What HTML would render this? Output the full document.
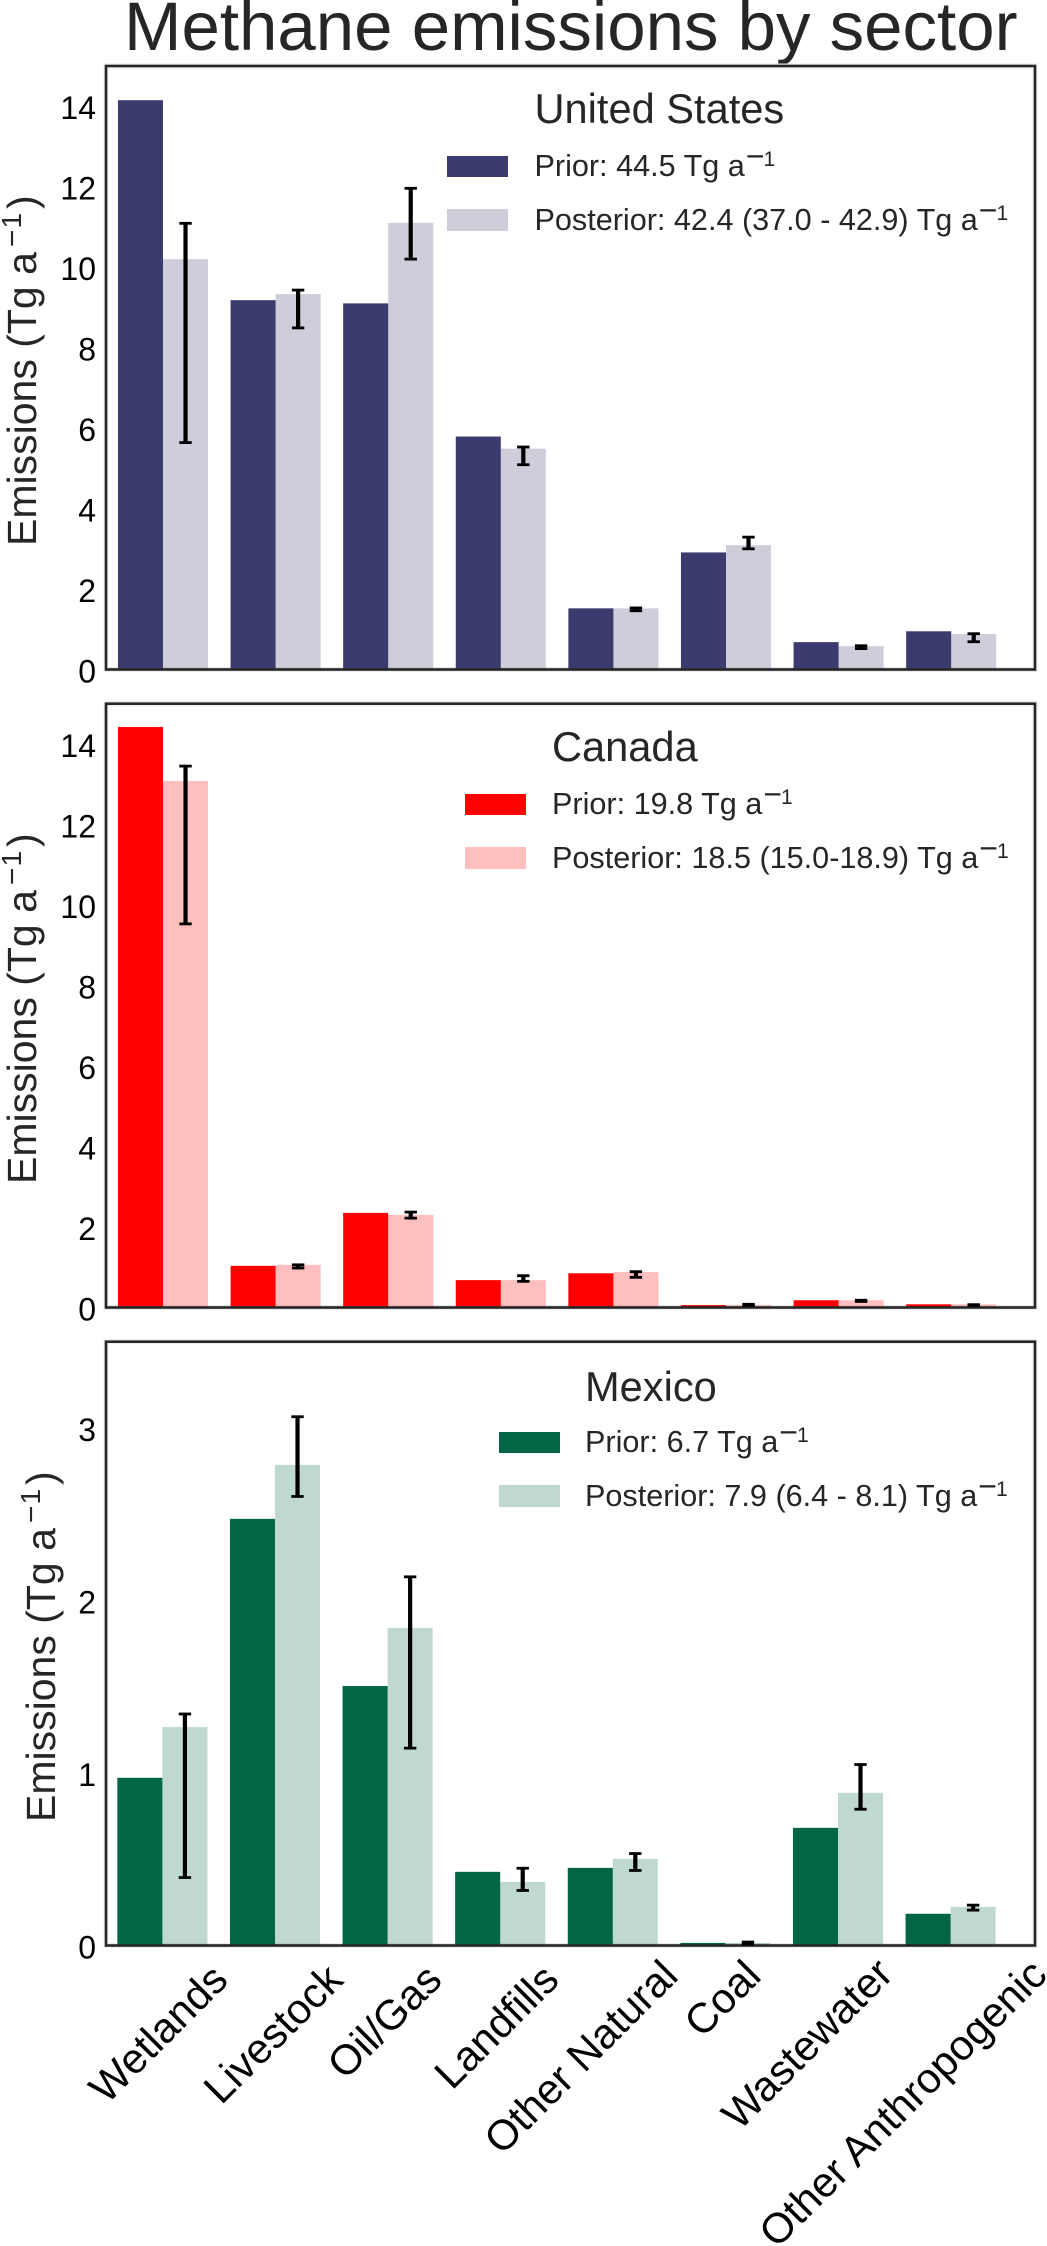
<!DOCTYPE html>
<html lang="en">
<head>
<meta charset="utf-8">
<title>Methane emissions by sector</title>
<style>
  html, body { margin: 0; padding: 0; background: #fff; }
  body { width: 1047px; height: 2246px; overflow: hidden; }
  svg { display: block; font-family: "Liberation Sans", Arial, sans-serif; }
  .leg-title { font-size: 41.6px; fill: #262626; }
  .leg-text { font-size: 30.6px; fill: #262626; }
  .y-title { font-size: 41px; fill: #262626; }
  .x-label { font-size: 42px; fill: #000; }
  .y-tick { font-size: 32px; fill: #000; text-anchor: end; }
</style>
</head>
<body>
<svg id="chart" xmlns="http://www.w3.org/2000/svg" width="1047" height="2246" viewBox="0 0 1047 2246">
  <rect x="0" y="0" width="1047" height="2246" fill="#fff"/>
  <text x="124" y="50" font-size="69" fill="#262626">Methane emissions by sector</text>

  <g id="panel-us"></g>
  <g id="panel-ca"></g>
  <g id="panel-mx"></g>

  <!-- Y axis titles -->
  <text class="y-title" transform="translate(36,546) rotate(-90)">Emissions (Tg a<tspan dx="5" dy="-14" font-size="30">−</tspan><tspan dx="1" dy="-1" font-size="28">1</tspan><tspan dx="4" dy="15">)</tspan></text>
  <text class="y-title" transform="translate(36,1184) rotate(-90)">Emissions (Tg a<tspan dx="5" dy="-14" font-size="30">−</tspan><tspan dx="1" dy="-1" font-size="28">1</tspan><tspan dx="4" dy="15">)</tspan></text>
  <text class="y-title" transform="translate(55,1822) rotate(-90)">Emissions (Tg a<tspan dx="5" dy="-14" font-size="30">−</tspan><tspan dx="1" dy="-1" font-size="28">1</tspan><tspan dx="4" dy="15">)</tspan></text>

  <!-- Legends -->
  <g>
    <text class="leg-title" x="534.5" y="123">United States</text>
    <rect x="447" y="156" width="61" height="21" fill="#3c3b6e"/>
    <rect x="447" y="209" width="61" height="22" fill="#3c3b6e" fill-opacity="0.25"/>
    <text class="leg-text" x="534.5" y="176">Prior: 44.5 Tg a<tspan dx="1" dy="-9" font-size="32">−</tspan><tspan dx="-1" dy="-1" font-size="21">1</tspan></text>
    <text class="leg-text" x="534.5" y="230">Posterior: 42.4 (37.0 - 42.9) Tg a<tspan dx="1" dy="-9" font-size="32">−</tspan><tspan dx="-1" dy="-1" font-size="21">1</tspan></text>
  </g>
  <g>
    <text class="leg-title" x="552" y="761">Canada</text>
    <rect x="465" y="794" width="61" height="21" fill="#ff0000"/>
    <rect x="465" y="847" width="61" height="22" fill="#ff0000" fill-opacity="0.25"/>
    <text class="leg-text" x="552" y="814">Prior: 19.8 Tg a<tspan dx="1" dy="-9" font-size="32">−</tspan><tspan dx="-1" dy="-1" font-size="21">1</tspan></text>
    <text class="leg-text" x="552" y="868">Posterior: 18.5 (15.0-18.9) Tg a<tspan dx="1" dy="-9" font-size="32">−</tspan><tspan dx="-1" dy="-1" font-size="21">1</tspan></text>
  </g>
  <g>
    <text class="leg-title" x="585" y="1401">Mexico</text>
    <rect x="499" y="1432" width="61" height="21" fill="#006644"/>
    <rect x="499" y="1485" width="61" height="22" fill="#006644" fill-opacity="0.25"/>
    <text class="leg-text" x="585" y="1452">Prior: 6.7 Tg a<tspan dx="1" dy="-9" font-size="32">−</tspan><tspan dx="-1" dy="-1" font-size="21">1</tspan></text>
    <text class="leg-text" x="585" y="1506">Posterior: 7.9 (6.4 - 8.1) Tg a<tspan dx="1" dy="-9" font-size="32">−</tspan><tspan dx="-1" dy="-1" font-size="21">1</tspan></text>
  </g>

  <!-- X category labels -->
  <g>
    <text class="x-label" text-anchor="end" transform="translate(230,1982) rotate(-45)">Wetlands</text>
    <text class="x-label" text-anchor="end" transform="translate(345,1982) rotate(-45)">Livestock</text>
    <text class="x-label" text-anchor="end" transform="translate(444,1982) rotate(-45)">Oil/Gas</text>
    <text class="x-label" text-anchor="end" transform="translate(561,1982) rotate(-45)">Landfills</text>
    <text class="x-label" text-anchor="end" transform="translate(680,1978) rotate(-45)">Other Natural</text>
    <text class="x-label" text-anchor="end" transform="translate(763,1978) rotate(-45)">Coal</text>
    <text class="x-label" text-anchor="end" transform="translate(895,1976) rotate(-45)">Wastewater</text>
    <text class="x-label" text-anchor="end" transform="translate(1049,1977) rotate(-45)">Other Anthropogenic</text>
  </g>
</svg>

<script>
// Chart data (Tg a-1)
const sectors = ['wetlands', 'livestock', 'oil-gas', 'landfills', 'other-natural', 'coal', 'wastewater', 'other-anthropogenic'];

const usPrior = [14.15, 9.18, 9.1, 5.79, 1.52, 2.91, 0.68, 0.95];
const usPosterior = [10.2, 9.33, 11.1, 5.49, 1.52, 3.09, 0.58, 0.88];
const usErrLow = [5.64, 8.49, 10.2, 5.09, 1.46, 3.0, 0.52, 0.69];
const usErrHigh = [11.09, 9.43, 11.96, 5.53, 1.53, 3.29, 0.59, 0.89];
const usTicks = [0, 2, 4, 6, 8, 10, 12, 14];

const caPrior = [14.42, 1.035, 2.35, 0.68, 0.85, 0.06, 0.18, 0.08];
const caPosterior = [13.08, 1.06, 2.3, 0.68, 0.88, 0.06, 0.18, 0.08];
const caErrLow = [9.53, 0.98, 2.22, 0.65, 0.75, 0.05, 0.15, 0.05];
const caErrHigh = [13.45, 1.06, 2.37, 0.79, 0.89, 0.08, 0.18, 0.07];
const caTicks = [0, 2, 4, 6, 8, 10, 12, 14];

const mxPrior = [0.972, 2.473, 1.504, 0.427, 0.45, 0.015, 0.682, 0.184];
const mxPosterior = [1.266, 2.786, 1.841, 0.369, 0.502, 0.015, 0.885, 0.224];
const mxErrLow = [0.394, 2.603, 1.144, 0.319, 0.435, 0.008, 0.79, 0.205];
const mxErrHigh = [1.342, 3.065, 2.137, 0.448, 0.533, 0.02, 1.049, 0.234];
const mxTicks = [0, 1, 2, 3];

const SVGNS = 'http://www.w3.org/2000/svg';

function drawPanel(cfg) {
  const root = document.getElementById(cfg.id);
  const left = 106, right = 1035;
  const unitX = 112.6, barUnits = 0.4;
  const xScale = function (v) { return 163 + cfg.dx + v * unitX; };
  const yScale = function (v) { return cfg.bottom - (v / cfg.yMax) * (cfg.bottom - cfg.top); };
  const barW = barUnits * unitX;

  const frame = document.createElementNS(SVGNS, 'rect');
  frame.setAttribute('x', left);
  frame.setAttribute('y', cfg.top);
  frame.setAttribute('width', right - left);
  frame.setAttribute('height', cfg.bottom - cfg.top);
  frame.setAttribute('fill', 'none');
  frame.setAttribute('stroke', '#ebebeb');
  frame.setAttribute('stroke-width', '5');
  
  
  root.appendChild(frame);

  sectors.forEach(function (name, i) {
    const prior = document.createElementNS(SVGNS, 'rect');
    prior.setAttribute('x', xScale(i) - barW);
    prior.setAttribute('y', yScale(cfg.prior[i]));
    prior.setAttribute('width', barW);
    prior.setAttribute('height', cfg.bottom - yScale(cfg.prior[i]));
    prior.setAttribute('fill', cfg.color);
    
    
    root.appendChild(prior);

    const post = document.createElementNS(SVGNS, 'rect');
    post.setAttribute('x', xScale(i));
    post.setAttribute('y', yScale(cfg.posterior[i]));
    post.setAttribute('width', barW);
    post.setAttribute('height', cfg.bottom - yScale(cfg.posterior[i]));
    post.setAttribute('fill', cfg.color);
    post.setAttribute('fill-opacity', '0.25');
    
    
    root.appendChild(post);
  });

  const spine = document.createElementNS(SVGNS, 'rect');
  spine.setAttribute('x', left);
  spine.setAttribute('y', cfg.top);
  spine.setAttribute('width', right - left);
  spine.setAttribute('height', cfg.bottom - cfg.top);
  spine.setAttribute('fill', 'none');
  spine.setAttribute('stroke', '#262626');
  spine.setAttribute('stroke-width', '2.6');
  
  
  root.appendChild(spine);

  sectors.forEach(function (name, i) {
    const cx = xScale(i) + barW / 2;
    const yHi = yScale(cfg.errHigh[i]);
    const yLo = yScale(cfg.errLow[i]);

    const stem = document.createElementNS(SVGNS, 'line');
    stem.setAttribute('x1', cx);
    stem.setAttribute('x2', cx);
    stem.setAttribute('y1', yHi);
    stem.setAttribute('y2', yLo);
    stem.setAttribute('stroke', '#000');
    stem.setAttribute('stroke-width', '4.2');
    
    
    root.appendChild(stem);

    const capTop = document.createElementNS(SVGNS, 'line');
    capTop.setAttribute('x1', cx - 6.2);
    capTop.setAttribute('x2', cx + 6.2);
    capTop.setAttribute('y1', yHi);
    capTop.setAttribute('y2', yHi);
    capTop.setAttribute('stroke', '#000');
    capTop.setAttribute('stroke-width', '2.8');
    
    
    root.appendChild(capTop);

    const capBottom = document.createElementNS(SVGNS, 'line');
    capBottom.setAttribute('x1', cx - 6.2);
    capBottom.setAttribute('x2', cx + 6.2);
    capBottom.setAttribute('y1', yLo);
    capBottom.setAttribute('y2', yLo);
    capBottom.setAttribute('stroke', '#000');
    capBottom.setAttribute('stroke-width', '2.8');
    
    
    root.appendChild(capBottom);
  });

  cfg.ticks.forEach(function (t) {
    const label = document.createElementNS(SVGNS, 'text');
    label.setAttribute('class', 'y-tick');
    label.setAttribute('x', 96);
    label.setAttribute('y', yScale(t) + 13);
    label.textContent = String(t);
    
    
    root.appendChild(label);
  });
}

drawPanel({ id: 'panel-us', top: 66, bottom: 669.5, yMax: 15, dx: 0, color: '#3c3b6e',
  prior: usPrior, posterior: usPosterior, errLow: usErrLow, errHigh: usErrHigh, ticks: usTicks });
drawPanel({ id: 'panel-ca', top: 703.7, bottom: 1307.5, yMax: 15, dx: 0, color: '#ff0000',
  prior: caPrior, posterior: caPosterior, errLow: caErrLow, errHigh: caErrHigh, ticks: caTicks });
drawPanel({ id: 'panel-mx', top: 1341.7, bottom: 1945.5, yMax: 3.5, dx: -0.6, color: '#006644',
  prior: mxPrior, posterior: mxPosterior, errLow: mxErrLow, errHigh: mxErrHigh, ticks: mxTicks });
</script>
</body>
</html>
